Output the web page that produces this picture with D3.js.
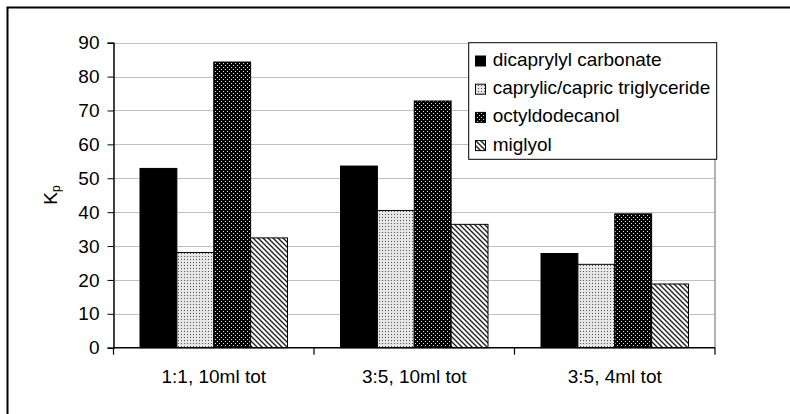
<!DOCTYPE html>
<html><head><meta charset="utf-8">
<script src="https://cdn.jsdelivr.net/npm/d3@7"></script>
<style>body{margin:0;background:#fff}svg{display:block;font-family:"Liberation Sans",Arial,sans-serif}</style>
</head><body><svg id="c" width="790" height="414"></svg>
<script>
const categories = ["1:1, 10ml tot", "3:5, 10ml tot", "3:5, 4ml tot"];
const seriesNames = ["dicaprylyl carbonate", "caprylic/capric triglyceride", "octyldodecanol", "miglyol"];
const dicaprylyl = [52.9, 53.6, 27.8];
const triglyceride = [28.1, 40.5, 24.6];
const octyldodecanol = [84.3, 72.8, 39.5];
const miglyol = [32.4, 36.4, 18.8];
const yTicks = [0, 10, 20, 30, 40, 50, 60, 70, 80, 90];

const seriesValues = [dicaprylyl, triglyceride, octyldodecanol, miglyol];
const fills = ["#000", "url(#pLight)", "url(#pDark)", "url(#pHatch)"];
const FS = 19;

const svg = d3.select("#c");
const defs = svg.append("defs");
// light dotted
const pl = defs.append("pattern").attr("id","pLight").attr("patternUnits","userSpaceOnUse").attr("width",3).attr("height",3);
pl.append("rect").attr("width",3).attr("height",3).attr("fill","#e6e6e6");
pl.append("rect").attr("x",1).attr("y",1).attr("width",1).attr("height",1).attr("fill","#555");
// dark dotted
const pd = defs.append("pattern").attr("id","pDark").attr("patternUnits","userSpaceOnUse").attr("width",4).attr("height",4);
pd.append("rect").attr("width",4).attr("height",4).attr("fill","#000");
pd.append("rect").attr("x",1).attr("y",1).attr("width",1).attr("height",1).attr("fill","#e0e0e0");
pd.append("rect").attr("x",3).attr("y",3).attr("width",1).attr("height",1).attr("fill","#e0e0e0");
// hatch
const ph = defs.append("pattern").attr("id","pHatch").attr("patternUnits","userSpaceOnUse").attr("width",5).attr("height",5);
ph.append("rect").attr("width",5).attr("height",5).attr("fill","#fff");
ph.append("path").attr("d","M-1,-1L6,6M-1,4L1,6M4,-1L6,1").attr("stroke","#222").attr("stroke-width",1.4);

// outer border
svg.append("rect").attr("x",7.5).attr("y",7.5).attr("width",800).attr("height",420).attr("fill","none").attr("stroke","#000").attr("stroke-width",2);

const x0 = 113.5, x1 = 715, y0 = 347.7, y1 = 42.7;
const x = d3.scaleBand().domain(categories).range([x0, x1]).paddingInner(0.2644).paddingOuter(0.1322);
const xs = d3.scaleBand().domain(d3.range(4)).range([0, x.bandwidth()]);
const y = d3.scaleLinear().domain([0, 90]).range([y0, y1]);

// gridlines
svg.append("g").selectAll("line").data(yTicks.filter(d=>d>0)).join("line")
  .attr("x1",x0).attr("x2",x1).attr("y1",d=>Math.round(y(d))+0.5).attr("y2",d=>Math.round(y(d))+0.5)
  .attr("stroke","#c0c0c0").attr("stroke-width",1);
// right border of plot
svg.append("line").attr("x1",x1).attr("x2",x1).attr("y1",y1).attr("y2",y0).attr("stroke","#999").attr("stroke-width",1.5);

// bars
seriesValues.forEach((vals, si) => {
  svg.append("g").selectAll("rect").data(vals).join("rect")
    .attr("x",(d,i)=>x(categories[i]) + xs(si))
    .attr("y",d=>y(d))
    .attr("width",xs.bandwidth())
    .attr("height",d=>y(0)-y(d))
    .attr("fill",fills[si]).attr("stroke","#000").attr("stroke-width",1);
});

// y axis
const ya = svg.append("g").attr("transform",`translate(${x0},0)`)
  .call(d3.axisLeft(y).tickValues(yTicks).tickSize(6).tickPadding(8));
ya.select(".domain").attr("stroke","#000").attr("stroke-width",1.5);
ya.selectAll(".tick line").attr("stroke","#000");
ya.selectAll("text").attr("font-size",FS).attr("fill","#000").attr("font-family","Liberation Sans, Arial, sans-serif");

// x axis
const xa = svg.append("g").attr("transform",`translate(0,${y0})`);
xa.append("line").attr("x1",x0).attr("x2",x1).attr("y1",0).attr("y2",0).attr("stroke","#000").attr("stroke-width",1.5);
const bounds = [x0].concat(categories.map(c=>x(c)+x.bandwidth()+x.step()*x.paddingInner()/2));
bounds[bounds.length-1] = x1;
xa.selectAll(".tk").data(bounds).join("line").attr("class","tk")
  .attr("x1",d=>d).attr("x2",d=>d).attr("y1",0).attr("y2",7).attr("stroke","#000").attr("stroke-width",1.2);
xa.selectAll("text").data(categories).join("text")
  .attr("x",d=>x(d)+x.bandwidth()/2).attr("y",35.6).attr("text-anchor","middle")
  .attr("font-size",FS).attr("fill","#000").text(d=>d);

// y label
const yl = svg.append("text").attr("transform","translate(57,195) rotate(-90)").attr("text-anchor","middle").attr("font-size",FS);
yl.append("tspan").text("K");
yl.append("tspan").attr("font-size",12).attr("dy",3).text("p");

// legend
const lg = svg.append("g");
lg.append("rect").attr("x",468.7).attr("y",42.7).attr("width",248).attr("height",116.6).attr("fill","#fff").attr("stroke","#000").attr("stroke-width",1);
seriesNames.forEach((n,i)=>{
  const by = 66 + i*28.2;
  lg.append("rect").attr("x",475.5).attr("y",by-10).attr("width",10).attr("height",10).attr("fill",fills[i]).attr("stroke","#000").attr("stroke-width",1);
  lg.append("text").attr("x",492.7).attr("y",by).attr("font-size",FS).attr("fill","#000").text(n);
});
</script></body></html>
